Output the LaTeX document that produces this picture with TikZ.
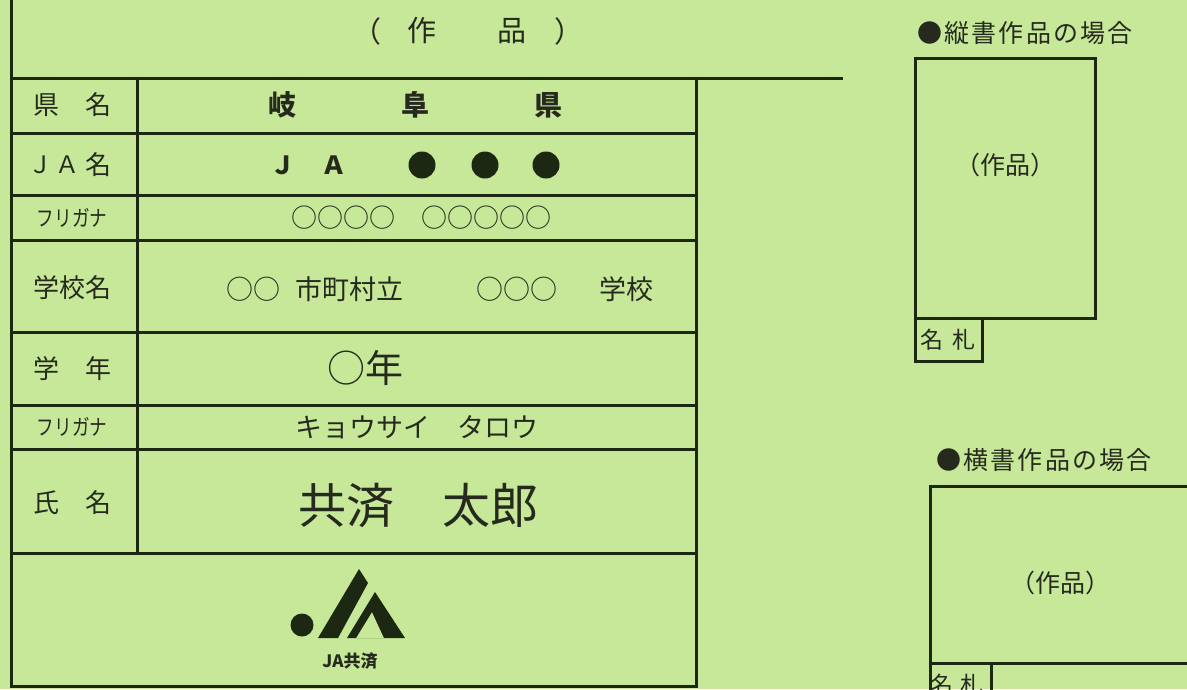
\documentclass[tikz,border=0pt]{standalone}
\usepackage{graphicx}
\usepackage{fontspec}
\setmainfont{Noto Sans CJK JP}
\definecolor{bg}{RGB}{198,232,152}
\definecolor{linec}{RGB}{28,40,18}
\definecolor{txtc}{RGB}{38,42,30}
\newcommand\jfs[1]{\fontsize{#1}{#1}\selectfont}
\newcommand\narrowkana[1]{\scalebox{0.8}[1]{#1}}
\tikzset{
  frame/.style={line width=3pt, draw=linec},
  t/.style={inner sep=0pt, text=txtc, anchor=center},
  lab/.style={t, font=\jfs{26}},
  kana/.style={t, font=\jfs{22}},
  val/.style={t, font=\jfs{27}},
  bval/.style={t, font=\jfs{28}\bfseries},
  head/.style={t, font={\jfs{25}\addfontfeature{LetterSpace=9}}},
}
\begin{document}
\begin{tikzpicture}[x=1pt,y=-1pt]
\useasboundingbox (0,0) rectangle (1187,689);
\fill[bg] (0,0) rectangle (1187,689);
\begin{scope}
\clip (0,0) rectangle (1187,689);
% ---- left form ----
\draw[frame] (11,-5) -- (11,686) -- (696,686) -- (696,78);
\draw[frame] (11,78) -- (843,78);
\draw[frame] (137,78) -- (137,553);
\foreach \yy in {133,195,240,332,405,449,553} \draw[frame] (11,\yy) -- (696,\yy);
% title
\node[t,font=\jfs{29}] (p1) at (367,31) {（};
\node[t,font=\jfs{29}] (p2) at (422,31) {作};
\node[t,font=\jfs{29}] (p3) at (512,31) {品};
\node[t,font=\jfs{29}] (p4) at (569,31) {）};
% labels
\node[lab] (l1) at (72,105) {県　名};
\node[t,font=\jfs{24}] (l2a) at (40,165) {Ｊ};
\node[t,font=\jfs{24}] (l2b) at (67,165) {Ａ};
\node[lab] (l2c) at (98,165) {名};
\node[kana] (l3) at (72,218) {\narrowkana{フリガナ}};
\node[lab] (l4) at (72,288) {学校名};
\node[lab] (l5) at (72,369) {学　年};
\node[kana] (l6) at (72,427) {\narrowkana{フリガナ}};
\node[lab] (l7) at (72,503) {氏　名};
% values
\node[bval] (v1a) at (282,105) {岐};
\node[bval] (v1b) at (415,105) {阜};
\node[bval] (v1c) at (548,105) {県};
\node[t,font=\jfs{25}\bfseries] (v2a) at (283,165) {Ｊ};
\node[t,font=\jfs{25}\bfseries] (v2b) at (334,165) {Ａ};
\node[circle,fill=linec,inner sep=0pt,minimum size=27pt] (d1) at (422,165) {};
\node[circle,fill=linec,inner sep=0pt,minimum size=27pt] (d2) at (485,165) {};
\node[circle,fill=linec,inner sep=0pt,minimum size=27pt] (d3) at (546,165) {};
\node[t,font=\jfs{26}] (v3) at (421,218) {○○○○　○○○○○};
\node[val] (v4a) at (253,289) {○○};
\node[val] (v4b) at (349,289) {市町村立};
\node[val] (v4c) at (517,289) {○○○};
\node[val] (v4d) at (626,289) {学校};
\node[t,font=\jfs{38}] (v5) at (365,368) {○年};
\node[val] (v6) at (417,427) {キョウサイ　タロウ};
\node[t,font=\jfs{48}] (v7) at (418,505) {共済　太郎};
% logo
\fill[linec] (302,625) circle (11.5);
\fill[linec] (318,638) -- (338,638) -- (368,583) -- (359,569) -- cycle;
\fill[linec,even odd rule] (375,592) -- (405,638) -- (347,638) -- cycle
      (372,612) -- (384,638) -- (356,638) -- cycle;
\node[t,font=\jfs{17}\bfseries] (logo) at (350,661) {JA共済};
% ---- right: vertical ----
\node[head] (h1) at (1025,33) {●縦書作品の場合};
\draw[frame] (915,58) rectangle (1095,318);
\draw[frame] (915,318) rectangle (982,361);
\node[t,font=\jfs{25}] (w1) at (1005,165) {（作品）};
\node[t,font=\jfs{23}] (n1) at (948,340) {名\hspace{9pt}札};
% ---- right: horizontal ----
\node[head] (h2) at (1044,460) {●横書作品の場合};
\draw[frame] (1195,486) -- (930,486) -- (930,700);
\draw[frame] (930,663) -- (1195,663);
\draw[frame] (991,663) -- (991,700);
\node[t,font=\jfs{25}] (w2) at (1060,583) {（作品）};
\node[t,font=\jfs{23}] (n2) at (957,685) {名\hspace{8pt}札};
\end{scope}
\end{tikzpicture}
\end{document}
